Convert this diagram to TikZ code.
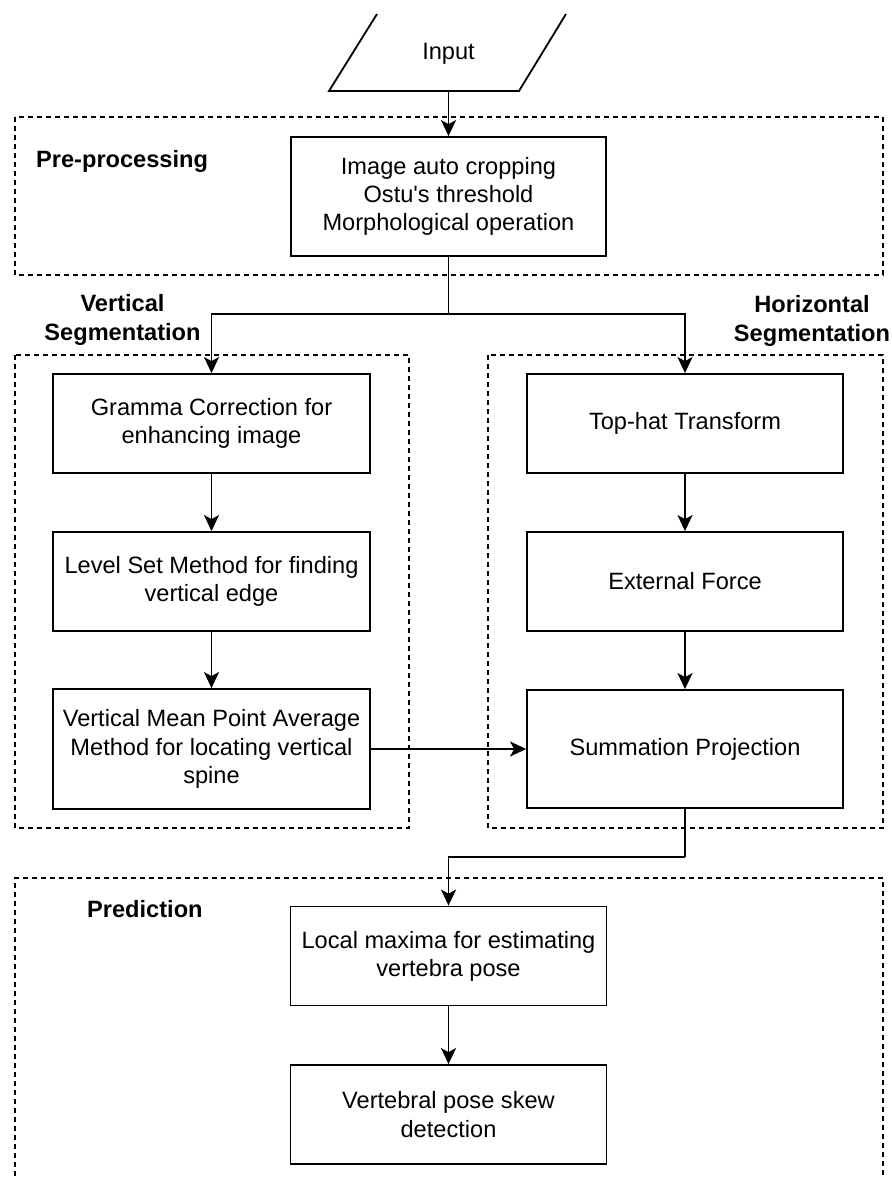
\documentclass[tikz,border=0pt]{standalone}
\usepackage{fontspec}
\setmainfont{Liberation Sans}
\usetikzlibrary{arrows.meta}
\begin{document}
\begin{tikzpicture}[x=1pt,y=-1pt,
  every node/.style={font=\fontsize{23.6}{28.2}\selectfont},
  stepbox/.style={draw, line width=1.8pt, align=center, inner sep=0pt, fill=white},
  region/.style={draw, line width=1.6pt, dash pattern=on 5pt off 4pt},
  lbl/.style={font=\fontsize{23.6}{28.2}\selectfont\bfseries, align=center, inner sep=0pt},
  arr/.style={line width=1.8pt, -{Stealth[length=16pt,width=15pt,inset=4pt]}},
  conn/.style={line width=1.8pt}]
\useasboundingbox (0,0) rectangle (892,1179);

% regions
\draw[region] (15,117) rectangle (883,275);
\draw[region] (15,355) rectangle (409,828);
\draw[region] (488,355) rectangle (883,828);
\draw[region] (15,1185) -- (15,878) -- (883,878) -- (883,1185);

% labels
\node[lbl, anchor=base west] (lpre) at (36,167) {Pre-processing};
\node[lbl] (lvert) at (122.5,320) {Vertical\\Segmentation};
\node[lbl] (lhor) at (812,321) {Horizontal\\Segmentation};
\node[lbl, anchor=base west] (lpred) at (87,917) {Prediction};

% input
\draw[line width=1.8pt] (377,14) -- (329,91) -- (519,91) -- (566,14);
\node (input) at (448.5,54) {Input};
\coordinate (inbot) at (448.5,91);

% boxes
\node[stepbox, minimum width=315pt, minimum height=119pt] (pre) at (448.5,196.5)
  {Image auto cropping\\Ostu\textquotesingle s threshold\\Morphological operation};
\node[stepbox, minimum width=317pt, minimum height=99pt] (g1) at (211.5,423.5)
  {Gramma Correction for\\enhancing image};
\node[stepbox, minimum width=317pt, minimum height=99pt] (g2) at (211.5,581.5)
  {Level Set Method for finding\\vertical edge};
\node[stepbox, minimum width=317pt, minimum height=120pt] (g3) at (211.5,749)
  {Vertical Mean Point Average\\Method for locating vertical\\spine};
\node[stepbox, minimum width=316pt, minimum height=99pt] (h1) at (685,423.5)
  {Top-hat Transform};
\node[stepbox, minimum width=316pt, minimum height=99pt] (h2) at (685,581.5)
  {External Force};
\node[stepbox, minimum width=316pt, minimum height=118pt] (h3) at (685,749)
  {Summation Projection};
\node[stepbox, minimum width=316pt, minimum height=99pt] (p1) at (448.5,956)
  {Local maxima for estimating\\vertebra pose};
\node[stepbox, minimum width=316pt, minimum height=99pt] (p2) at (448.5,1114.5)
  {Vertebral pose skew\\detection};

% connectors
\coordinate (split) at (448.5,314);
\coordinate (join) at (685,857);
\draw[arr] (inbot) -- (pre.north);
\draw[conn] (pre.south) -- (split);
\draw[arr] (split) -| (g1.north);
\draw[arr] (split) -| (h1.north);
\draw[arr] (g1) -- (g2);
\draw[arr] (g2) -- (g3);
\draw[arr] (h1) -- (h2);
\draw[arr] (h2) -- (h3);
\draw[arr] (g3.east) -- (h3.west);
\draw[conn] (h3.south) -- (join);
\draw[arr] (join) -| (p1.north);
\draw[arr] (p1) -- (p2);
\end{tikzpicture}
\end{document}
